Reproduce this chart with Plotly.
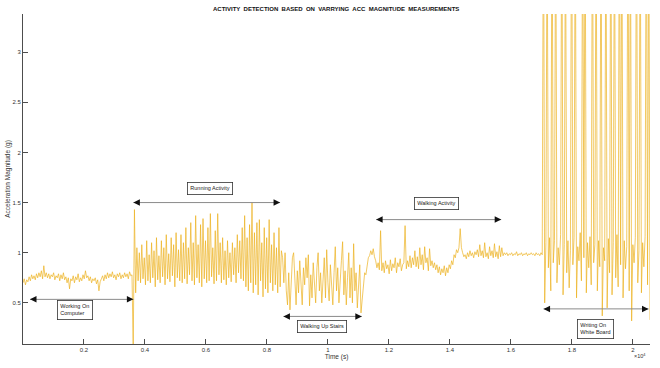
import numpy as np
import plotly.graph_objects as go

# ---------------- data (40-sample spacing) ----------------
computer = [0.70, 0.74, 0.68, 0.73, 0.71, 0.76, 0.72, 0.78, 0.74, 0.77, 0.73,
            0.79, 0.75, 0.80, 0.76, 0.82, 0.74, 0.87, 0.76, 0.80, 0.75,
            0.79, 0.74, 0.78, 0.76, 0.80, 0.73, 0.77, 0.75, 0.79, 0.72,
            0.78, 0.74, 0.80, 0.73, 0.76, 0.70, 0.75, 0.64, 0.74, 0.72,
            0.77, 0.70, 0.76, 0.73, 0.79, 0.71, 0.75, 0.72, 0.78, 0.74,
            0.82, 0.75, 0.77, 0.72, 0.76, 0.70, 0.74, 0.72, 0.75, 0.69,
            0.73, 0.62, 0.71, 0.74, 0.77, 0.72, 0.78, 0.74, 0.80, 0.75,
            0.79, 0.76, 0.81, 0.75, 0.78, 0.73, 0.79, 0.76, 0.80, 0.74,
            0.78, 0.75, 0.80, 0.76, 0.79, 0.74, 0.81, 0.77]

running = [0.78, 0.05, 1.43, 0.60, 1.05, 0.72, 1.00, 0.70, 1.08, 0.74,
           0.95, 0.68, 1.12, 0.72, 0.98, 0.70, 1.10, 0.75, 1.02, 0.66,
           1.15, 0.73, 0.97, 0.70, 1.12, 0.76, 1.05, 0.68, 1.18, 0.74,
           0.99, 0.71, 1.15, 0.77, 1.08, 0.66, 1.20, 0.75, 1.03, 0.72,
           1.18, 0.70, 1.10, 0.74, 1.25, 0.69, 1.05, 0.78, 1.30, 0.72,
           1.10, 0.68, 1.37, 0.75, 1.08, 0.70, 1.28, 0.66, 1.34, 0.74,
           1.12, 0.70, 1.25, 0.72, 1.39, 0.76, 1.05, 0.69, 1.22, 0.72,
           1.39, 0.78, 1.10, 0.70, 1.15, 0.73, 1.02, 0.68, 1.12, 0.75,
           1.00, 0.71, 1.10, 0.78, 1.05, 0.70, 1.18, 0.80, 1.12, 0.74,
           1.25, 0.72, 1.37, 0.66, 1.15, 0.62, 1.28, 0.70, 1.50, 0.60,
           1.20, 0.68, 1.30, 0.58, 1.33, 0.72, 1.10, 0.56, 1.25, 0.64,
           1.15, 0.60, 1.33, 0.70, 1.08, 0.62, 1.20, 0.68, 1.05, 0.60,
           1.25, 0.66, 1.02]

stairs = [0.95, 0.70, 1.00, 0.62, 0.48, 0.80, 0.43, 0.75, 0.95, 1.00,
          0.70, 0.48, 0.82, 0.60, 0.92, 0.72, 0.48, 0.85, 0.68, 0.95,
          0.75, 0.98, 0.47, 0.78, 0.55, 0.90, 0.70, 0.50, 0.85, 1.00,
          0.62, 0.80, 0.50, 0.72, 0.95, 0.55, 1.03, 0.70, 0.52, 0.88,
          0.65, 0.48, 0.80, 1.06, 0.62, 0.85, 0.50, 0.78, 0.92, 1.11,
          0.58, 0.82, 0.48, 0.75, 1.00, 0.55, 0.85, 0.50, 1.09, 0.62,
          0.80, 0.45, 0.70, 0.88, 0.40, 0.55]

walking = [0.68, 0.80, 0.78, 0.90, 0.95, 0.97, 1.02, 0.98, 1.04, 0.96,
           0.92, 0.85, 0.90, 0.83, 1.22, 0.82, 0.90, 0.80, 0.92, 0.84,
           0.88, 0.79, 0.93, 0.82, 0.89, 0.85, 0.95, 0.80, 0.90, 0.86,
           0.94, 0.82, 0.88, 0.90, 1.27, 0.84, 0.92, 0.86, 0.97, 0.85,
           0.95, 0.88, 1.02, 0.86, 0.96, 0.84, 1.05, 0.88, 0.98, 0.83,
           1.06, 0.90, 0.95, 0.82, 1.04, 0.87, 0.92, 0.85, 0.90, 0.83,
           0.88, 0.80, 0.86, 0.78, 0.84, 0.80, 0.87, 0.77, 0.85, 0.80,
           0.88, 0.84, 0.92, 0.88, 0.98, 0.95, 1.03, 1.00, 1.05, 1.24,
           1.05, 1.00, 0.96, 0.98, 0.94, 1.00, 0.96, 1.02, 0.97, 1.00,
           0.95, 1.01, 0.98, 1.03, 0.96, 1.08, 0.97, 1.02, 0.95, 1.10,
           0.96, 1.00, 0.94, 1.06, 0.97, 1.02, 0.95, 1.09, 0.96, 1.01,
           0.94, 1.07, 0.96, 1.05, 0.97, 1.00]

idle = [0.98, 1.00, 0.97, 0.99, 0.98, 1.00, 0.97, 0.99, 0.98, 1.01,
        0.97, 0.99, 0.98, 1.00, 0.97, 0.99, 0.98, 1.00, 0.97, 0.99,
        0.98, 1.00, 0.98, 0.99, 0.97, 1.00, 0.98, 0.99, 0.97, 1.00, 0.98]

writing = [4.8, 0.50, 1.10, 4.6, 0.85, 1.15, 0.62, 4.9, 0.90, 1.12,
           4.7, 0.70, 1.05, 0.88, 1.18, 4.8, 0.58, 1.08, 4.5, 0.80,
           1.12, 0.65, 1.02, 4.9, 0.88, 1.15, 4.6, 0.55, 1.06, 0.92,
           1.20, 0.72, 4.8, 0.95, 4.7, 0.60, 1.10, 0.85, 1.16, 0.68,
           4.9, 0.90, 1.08, 4.6, 0.62, 1.12, 0.86, 4.8, 0.37, 1.05,
           0.92, 4.7, 0.45, 1.14, 0.80, 4.9, 0.58, 1.10, 4.6, 0.75,
           1.18, 0.66, 4.8, 0.88, 4.7, 0.55, 1.12, 0.84, 1.06, 4.9,
           0.62, 4.6, 0.32, 1.08, 0.90, 1.15, 4.8, 0.70, 1.02, 4.7,
           0.60, 1.10, 0.86, 1.16, 4.9, 0.68, 4.6, 0.33]

t_end = 20560
x_ticks = [2000, 4000, 6000, 8000, 10000, 12000, 14000, 16000, 18000, 20000]
x_tick_labels = ["0.2", "0.4", "0.6", "0.8", "1", "1.2", "1.4", "1.6", "1.8", "2"]
y_ticks = [0.5, 1, 1.5, 2, 2.5, 3]
y_tick_labels = ["0.5", "1", "1.5", "2", "2.5", "3"]

# activity labels: (text, x, y) and double arrows: (x0, x1, y)
labels = [("Running Activity", 6130, 1.64),
          ("Working On<br>Computer", 1720, 0.43),
          ("Walking Up Stairs", 9790, 0.265),
          ("Walking Activity", 13570, 1.49),
          ("Writing On<br>White Board", 18780, 0.235)]
arrows = [(3620, 8430, 1.5),
          (230, 3620, 0.535),
          (8540, 11110, 0.365),
          (11580, 15680, 1.33),
          (17070, 20510, 0.44)]

# ---------------- figure ----------------
signal = np.array(computer + running + stairs + walking + idle + writing)
t = np.linspace(0, t_end, len(signal))

FONT = "Liberation Sans, Arial, sans-serif"
AX = "#4d4d4d"

fig = go.Figure()
fig.add_trace(go.Scatter(x=t, y=signal, mode="lines",
                         line=dict(color="#EDB120", width=0.7),
                         hoverinfo="skip", showlegend=False))

head = 160  # length of the arrow-head stub, in time units
for x0, x1, y in arrows:
    fig.add_shape(type="line", x0=x0, x1=x1, y0=y, y1=y, xref="x", yref="y",
                  line=dict(color="#8a8a8a", width=1))
    for tip, tail in ((x0, x0 + head), (x1, x1 - head)):
        fig.add_annotation(x=tip, y=y, ax=tail, ay=y, xref="x", yref="y",
                           axref="x", ayref="y", text="", showarrow=True,
                           arrowhead=2, arrowsize=1.3, arrowwidth=1,
                           arrowcolor="#111111")

for text, x, y in labels:
    fig.add_annotation(x=x, y=y, xref="x", yref="y", text=text,
                       showarrow=False, align="left",
                       font=dict(family=FONT, size=5.5, color="#222"),
                       bordercolor="#333", borderwidth=0.8, borderpad=2.5,
                       bgcolor="white")

fig.add_annotation(x=1, y=0, xref="paper", yref="paper", xanchor="right",
                   yanchor="top", yshift=-7, xshift=-2,
                   text="×10<sup>4</sup>", showarrow=False,
                   font=dict(family=FONT, size=5.5, color="#333"))

fig.add_annotation(x=0.4995, y=1, xref="paper", yref="paper", xanchor="center",
                   yanchor="middle", yshift=5, showarrow=False,
                   text="<b>ACTIVITY  DETECTION  BASED  ON  VARRYING  ACC  MAGNITUDE  MEASUREMENTS</b>",
                   font=dict(family=FONT, size=6, color="#111"))

fig.update_layout(
    width=660, height=368,
    margin=dict(l=23, r=10, t=14, b=24, autoexpand=False),
    paper_bgcolor="white", plot_bgcolor="white",
    font=dict(family=FONT, size=6, color="#333"),
    showlegend=False,
)
fig.update_xaxes(range=[0, t_end], tickvals=x_ticks, ticktext=x_tick_labels,
                 ticks="inside", ticklen=5, tickcolor=AX, showline=True,
                 linecolor=AX, linewidth=1, mirror=False, showgrid=False,
                 zeroline=False, automargin=False,
                 tickfont=dict(size=6, color="#333"),
                 title=dict(text="Time (s)", font=dict(size=6.5, color="#333"), standoff=1))
fig.update_yaxes(range=[0.09, 3.38], tickvals=y_ticks, ticktext=y_tick_labels,
                 ticks="inside", ticklen=5, tickcolor=AX, showline=True,
                 linecolor=AX, linewidth=1, mirror=False, showgrid=False,
                 zeroline=False, automargin=False,
                 tickfont=dict(size=6, color="#333"),
                 title=dict(text="Acceleration Magnitude (g)",
                            font=dict(size=6.5, color="#333"), standoff=1))

fig.write_html("out.html", config={"displayModeBar": False},
               post_script="document.body.style.margin='0px';")
